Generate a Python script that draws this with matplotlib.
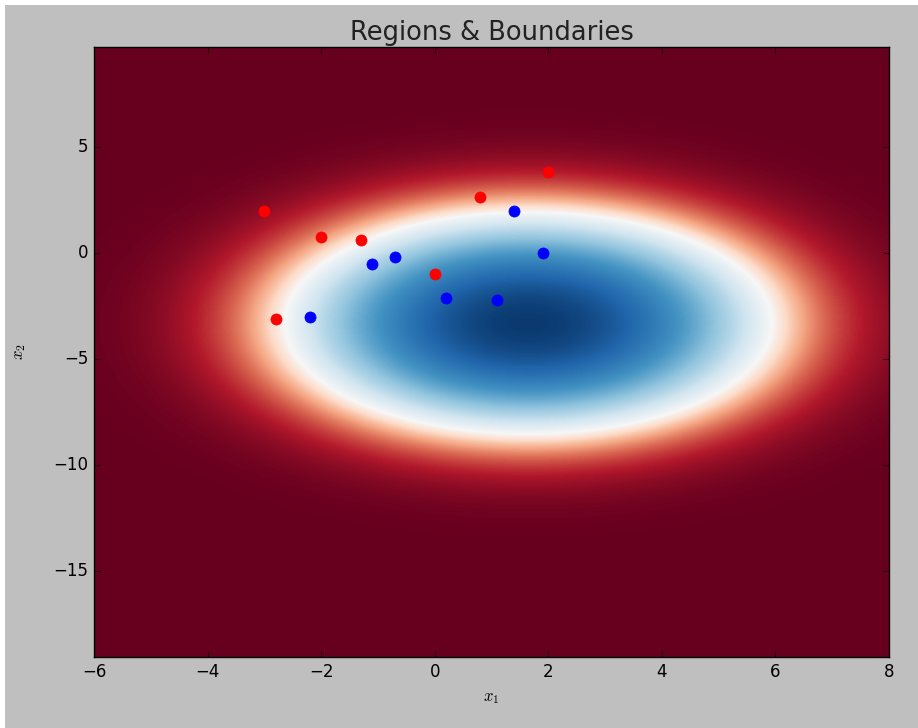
import numpy as np
import matplotlib
matplotlib.use('Agg')
import matplotlib.pyplot as plt
from matplotlib.patches import Rectangle

plt.style.use('classic')

RED_X = [-3.0, -2.0, -1.3, 0.8, 2.0, 0.0, -2.8]
RED_Y = [2.0, 0.75, 0.6, 2.65, 3.8, -1.0, -3.1]
BLUE_X = [1.4, 1.9, -0.7, -1.1, 0.2, 1.1, -2.2]
BLUE_Y = [2.0, 0.0, -0.2, -0.5, -2.1, -2.2, -3.0]

# plot window
X_RANGE = (-6.0, 8.0)
Y_RANGE = (-19.06, 9.72)

# elliptical decision region (centre, half-axes, colour ramp inside / decay outside)
CENTER = (1.65, -3.3)
AXES = (4.3, 5.25)
SLOPE_IN = 0.48
DECAY_OUT = 1.8


def region_field(xx, yy):
    """Colour index of the region map: 0.5 on the boundary ellipse."""
    r2 = ((xx - CENTER[0]) / AXES[0]) ** 2 + ((yy - CENTER[1]) / AXES[1]) ** 2
    v = 1.0 - r2
    inside = 0.5 + SLOPE_IN * v
    outside = 0.5 * np.exp(DECAY_OUT * np.minimum(v, 0))
    return np.clip(np.where(v >= 0, inside, outside), 0, 1)


def main():
    fig = plt.figure(figsize=(9.18, 7.28), dpi=100, facecolor='white')
    # screenshot edge: thin white strip on the left and top
    fig.patches.append(Rectangle((5 / 918, 0), 1, 1 - 5 / 728, transform=fig.transFigure,
                                 facecolor='#bfbfbf', edgecolor='none', zorder=-1))
    ax = fig.add_axes([94 / 918, 71 / 728, 795 / 918, 610 / 728])

    xs = np.linspace(X_RANGE[0], X_RANGE[1], 600)
    ys = np.linspace(Y_RANGE[0], Y_RANGE[1], 600)
    xx, yy = np.meshgrid(xs, ys)
    zz = region_field(xx, yy)

    ax.imshow(zz, extent=[X_RANGE[0], X_RANGE[1], Y_RANGE[0], Y_RANGE[1]],
              origin='lower', cmap='RdBu', vmin=0, vmax=1, aspect='auto',
              interpolation='bilinear')

    ax.plot(RED_X, RED_Y, 'o', color='#ff0000', markeredgecolor='#ff0000', markersize=8)
    ax.plot(BLUE_X, BLUE_Y, 'o', color='#0000ff', markeredgecolor='#0000ff', markersize=8)

    ax.set_xlim(*X_RANGE)
    ax.set_ylim(*Y_RANGE)
    ax.set_title('Regions & Boundaries', fontsize=18.5, color='#222222')
    ax.set_xlabel('$x_1$')
    ax.set_ylabel('$x_2$', labelpad=18)

    fig.savefig('out.png', dpi=100, facecolor=fig.get_facecolor())
    plt.close(fig)


if __name__ == '__main__':
    main()
